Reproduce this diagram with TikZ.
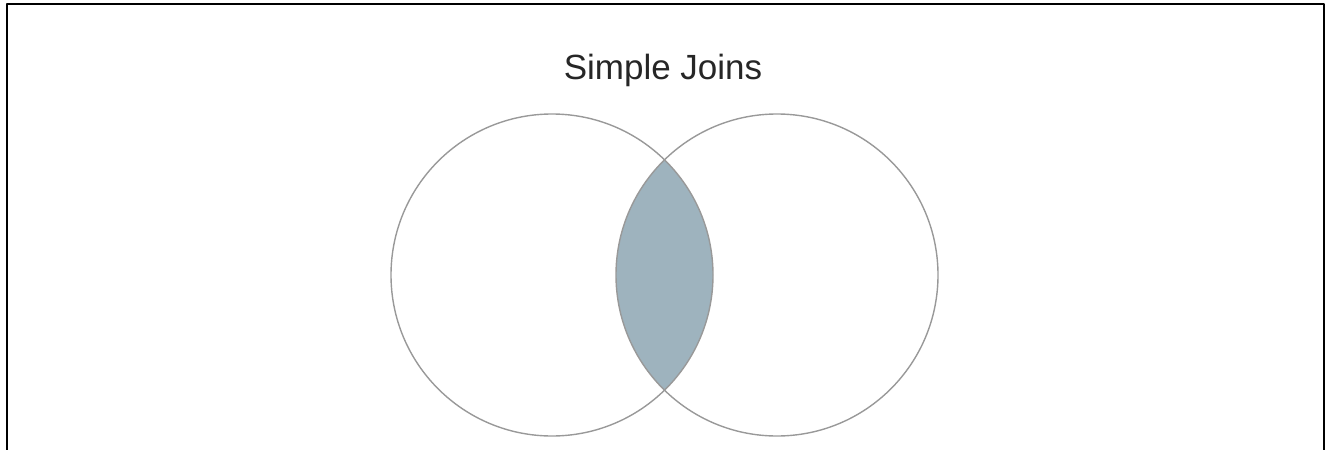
\documentclass[tikz,border=0pt]{standalone}
\usepackage{fontspec}
\setmainfont{Liberation Sans}
\usepackage{xcolor}
\usetikzlibrary{positioning}
\definecolor{ringgray}{HTML}{999999}
\definecolor{lensblue}{HTML}{9EB3BE}
\tikzset{
    every picture/.style={line cap=round,line join=round},
    setring/.style={draw=ringgray,line width=1.4pt},
    framerule/.style={draw=black,line width=2.4pt,line cap=butt},
    titletext/.style={font=\fontsize{35}{42}\selectfont,text=black!85}
}
\begin{document}
\begin{tikzpicture}[x=1pt,y=-1pt]
  \useasboundingbox (0,0) rectangle (1326,450);
  \draw[framerule] (7,452) -- (7,4) -- (1324,4) -- (1324,452);
  \node[titletext] (title) at (663,70) {Simple Joins};
  \coordinate (setA) at (552,275);
  \coordinate (setB) at (777,275);
  % overlap of the two sets
  \begin{scope}
    \clip (setA) circle[radius=161];
    \fill[lensblue] (setB) circle[radius=161];
  \end{scope}
  \draw[setring] (setA) circle[radius=161];
  \draw[setring] (setB) circle[radius=161];
\end{tikzpicture}
\end{document}
